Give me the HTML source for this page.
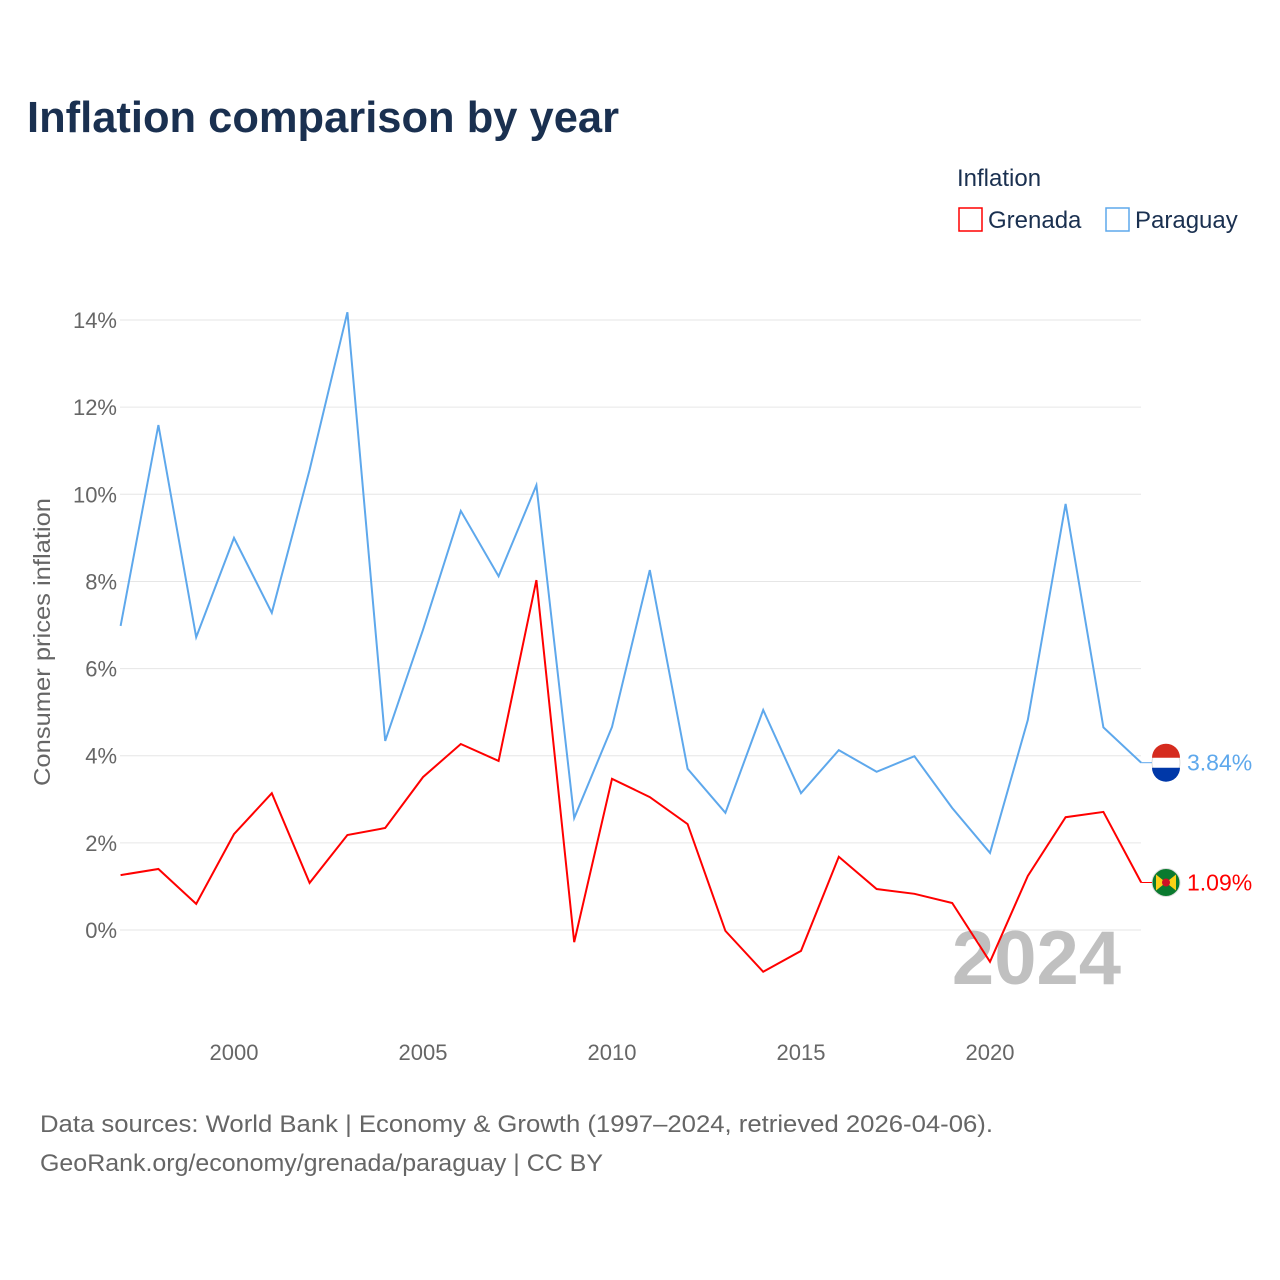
<!DOCTYPE html>
<html><head><meta charset="utf-8"><style>
body{margin:0;background:#fff;font-family:"Liberation Sans",sans-serif}
</style></head><body>
<svg id="chart" width="1280" height="1280" xmlns="http://www.w3.org/2000/svg" style="display:block">
<rect width="1280" height="1280" fill="#fff"/>
<text x="27" y="132" font-size="44" font-weight="bold" fill="#1a3050" textLength="592" lengthAdjust="spacingAndGlyphs">Inflation comparison by year</text>
<text x="957" y="186" font-size="24" fill="#1a3050">Inflation</text>
<g><rect x="959" y="208" width="23" height="23" fill="none" stroke="#f00" stroke-width="1.5"/><text x="988" y="228" font-size="24" fill="#1a3050">Grenada</text></g>
<g><rect x="1106" y="208" width="23" height="23" fill="none" stroke="#5ea8ec" stroke-width="1.5"/><text x="1135" y="228" font-size="24" fill="#1a3050">Paraguay</text></g>
<text transform="translate(50,642) rotate(-90)" text-anchor="middle" font-size="23" fill="#666" textLength="288" lengthAdjust="spacingAndGlyphs">Consumer prices inflation</text>
<text x="1121" y="984" text-anchor="end" font-size="76" font-weight="bold" fill="#c0c0c0">2024</text>
<g id="grid"></g><g id="series"></g>
<text x="40" y="1132" font-size="24" fill="#666" textLength="953" lengthAdjust="spacingAndGlyphs">Data sources: World Bank | Economy &amp; Growth (1997–2024, retrieved 2026-04-06).</text>
<text x="40" y="1171" font-size="24" fill="#666" textLength="563" lengthAdjust="spacingAndGlyphs">GeoRank.org/economy/grenada/paraguay | CC BY</text>
</svg>
<script>
const years=[1997,1998,1999,2000,2001,2002,2003,2004,2005,2006,2007,2008,2009,2010,2011,2012,2013,2014,2015,2016,2017,2018,2019,2020,2021,2022,2023,2024];
const paraguay=[6.98,11.59,6.72,9.0,7.28,10.56,14.18,4.34,6.89,9.62,8.12,10.21,2.57,4.66,8.26,3.70,2.69,5.05,3.14,4.13,3.63,3.99,2.80,1.77,4.82,9.78,4.65,3.84];
const grenada=[1.26,1.40,0.60,2.20,3.14,1.08,2.18,2.34,3.51,4.27,3.88,8.03,-0.28,3.47,3.05,2.43,-0.02,-0.96,-0.48,1.68,0.94,0.83,0.62,-0.73,1.24,2.59,2.71,1.09];
const yTicks=[0,2,4,6,8,10,12,14];
const xTicks=[2000,2005,2010,2015,2020];
const NS="http://www.w3.org/2000/svg";
const x=v=>120.6+(v-1997)*37.8;
const y=v=>930-v*43.57;
function mk(t,a,p){const e=document.createElementNS(NS,t);for(const k in a)e.setAttribute(k,a[k]);p.appendChild(e);return e;}
const grid=document.getElementById('grid'),ser=document.getElementById('series');
yTicks.forEach(t=>{
 const l=mk('line',{x1:120,x2:1141,y1:y(t),y2:y(t),stroke:'#e6e6e6','stroke-width':1},grid);
 
 
 const tx=mk('text',{x:117,y:y(t)+8,'text-anchor':'end','font-size':22,fill:'#666'},grid);tx.textContent=t+'%';
 
 
});
xTicks.forEach(t=>{
 const tx=mk('text',{x:x(t),y:1060,'text-anchor':'middle','font-size':22,fill:'#666'},grid);tx.textContent=t;
 
 
});
function line(vals,color,name,label){
 const d=vals.map((v,i)=>(i?'L':'M')+x(years[i]).toFixed(1)+','+y(v).toFixed(1)).join('');
 const p=mk('path',{d:d,fill:'none',stroke:color,'stroke-width':2},ser);
 
 
 const last=vals[vals.length-1],ly=y(last);
 const c=mk('circle',{cx:1166,cy:ly,r:14,fill:name==='paraguay'?'#fff':'#0a7a2f',stroke:'#ddd'},ser);
 
 
 if(name==='paraguay'){mk('path',{d:`M1152,${ly-5}A14,14 0 0 1 1180,${ly-5}Z`,fill:'#d52b1e'},ser);mk('path',{d:`M1152,${ly+5}A14,14 0 0 0 1180,${ly+5}Z`,fill:'#0038a8'},ser);}
 else{mk('path',{d:`M1156,${ly-8}L1176,${ly+8}L1176,${ly-8}L1156,${ly+8}Z`,fill:'#fcd116'},ser);mk('circle',{cx:1166,cy:ly,r:4,fill:'#ce1126'},ser);}
 mk('line',{x1:x(2024),x2:1152,y1:ly,y2:ly,stroke:color,'stroke-width':1},ser);
 const t=mk('text',{x:1187,y:ly+8,'font-size':23,fill:color},ser);t.textContent=label(last);
 
 
}
line(paraguay,'#5ea8ec','paraguay',v=>v.toFixed(2)+'%');
line(grenada,'#ff0000','grenada',v=>v.toFixed(2)+'%');
</script>
</body></html>
